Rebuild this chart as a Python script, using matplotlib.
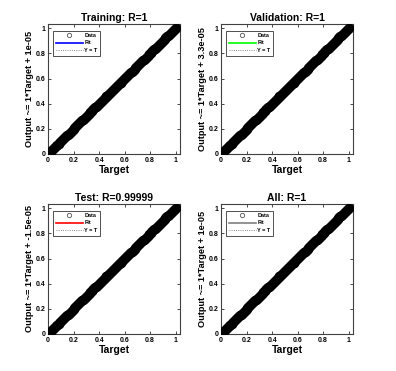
import numpy as np
import matplotlib
matplotlib.use('Agg')
import matplotlib.pyplot as plt

plt.rcParams['font.family'] = ['Liberation Sans', 'DejaVu Sans']
plt.rcParams['font.weight'] = 'bold'

titles = ['Training: R=1', 'Validation: R=1', 'Test: R=0.99999', 'All: R=1']
ylabels = ['Output ~= 1*Target + 1e-05', 'Output ~= 1*Target + 3.3e-05',
           'Output ~= 1*Target + -1.5e-05', 'Output ~= 1*Target + 1e-05']
fit_colors = ['#0000ff', '#00ff00', '#ff0000', '#808080']
slopes = [1.0, 1.0, 1.0, 1.0]
offsets = [1e-05, 3.3e-05, -1.5e-05, 1e-05]

# target values (read along the diagonal), output ~= target
targets = [0.0, 0.004, 0.011, 0.018, 0.026, 0.031, 0.039, 0.047, 0.052, 0.061,
           0.068, 0.074, 0.083, 0.089, 0.097, 0.105, 0.112, 0.118, 0.127, 0.134,
           0.141, 0.149, 0.155, 0.163, 0.171, 0.178, 0.186, 0.192, 0.201, 0.207,
           0.215, 0.223, 0.229, 0.238, 0.245, 0.251, 0.259, 0.267, 0.274, 0.281,
           0.289, 0.296, 0.303, 0.311, 0.318, 0.326, 0.332, 0.341, 0.348, 0.355,
           0.362, 0.37, 0.377, 0.385, 0.391, 0.399, 0.407, 0.414, 0.421, 0.428,
           0.436, 0.443, 0.451, 0.458, 0.465, 0.472, 0.48, 0.487, 0.495, 0.502,
           0.509, 0.517, 0.524, 0.531, 0.539, 0.546, 0.553, 0.561, 0.568, 0.575,
           0.583, 0.59, 0.597, 0.605, 0.612, 0.619, 0.627, 0.634, 0.641, 0.649,
           0.656, 0.663, 0.671, 0.678, 0.685, 0.693, 0.7, 0.707, 0.715, 0.722,
           0.729, 0.737, 0.744, 0.751, 0.759, 0.766, 0.773, 0.781, 0.788, 0.795,
           0.803, 0.81, 0.817, 0.825, 0.832, 0.839, 0.847, 0.854, 0.861, 0.869,
           0.876, 0.883, 0.891, 0.898, 0.905, 0.913, 0.92, 0.927, 0.935, 0.942,
           0.949, 0.957, 0.964, 0.971, 0.979, 0.986, 0.993, 1.0]
outputs = list(targets)

fig = plt.figure(figsize=(3.96, 3.71), dpi=100)
W, H = 396, 371
boxes = [(48, 24), (221, 24), (48, 204), (221, 204)]
aw, ah = 132, 130

for i in range(4):
    x0, y0 = boxes[i]
    ax = fig.add_axes([x0 / W, 1 - (y0 + ah) / H, aw / W, ah / H])
    ax.plot(targets, outputs, 'o', mfc='none', mec='black', ms=5.2, mew=1.8,
            label='Data', zorder=3)
    xl = np.array([0, 1])
    ax.plot(xl, slopes[i] * xl + offsets[i], '-', color=fit_colors[i], lw=1.2,
            label='Fit', zorder=2)
    ax.plot(xl, xl, ':', color='#606060', lw=0.6, label='Y = T', zorder=1)
    ax.set_xlim(0, 1.034)
    ax.set_ylim(0, 1.034)
    ax.set_xticks([0, 0.2, 0.4, 0.6, 0.8, 1])
    ax.set_yticks([0, 0.2, 0.4, 0.6, 0.8, 1])
    ax.set_xticklabels(['0', '0.2', '0.4', '0.6', '0.8', '1'])
    ax.set_yticklabels(['0', '0.2', '0.4', '0.6', '0.8', '1'])
    ax.tick_params(direction='in', labelsize=5, length=2, width=0.5, pad=2,
                   top=True, right=True)
    for s in ax.spines.values():
        s.set_color('#404040')
        s.set_linewidth(0.8)
    ax.set_title(titles[i], fontsize=7.5, fontweight='bold', pad=2)
    ax.set_xlabel('Target', fontsize=7.5, fontweight='bold', labelpad=1)
    ax.set_ylabel(ylabels[i], fontsize=6.6, fontweight='bold', labelpad=1)
    leg = ax.legend(loc='upper left', fontsize=4, frameon=True, fancybox=False,
                    edgecolor='black', handlelength=5, handletextpad=0.2,
                    borderpad=0.4, labelspacing=0.5, markerscale=0.6,
                    bbox_to_anchor=(0.04, 0.95), borderaxespad=0)
    leg.get_frame().set_linewidth(0.6)
    leg.legend_handles[0].set_markeredgewidth(0.6)
    leg.legend_handles[0].set_markeredgecolor('#555555')

fig.savefig('out.png', dpi=100)
